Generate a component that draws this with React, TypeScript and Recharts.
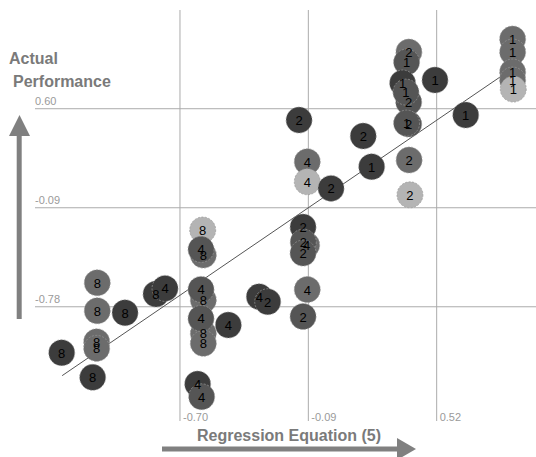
import React from "react";
import { ReferenceLine, Scatter, ScatterChart, XAxis, YAxis } from "recharts";

type Pt = { x: number; y: number; tone: number };

// values; tone = shade level of the bubble (1 dark .. 4 light)
const group1: Pt[] = [
  { x: 0.881, y: 1.086, tone: 3 },
  { x: 0.881, y: 0.995, tone: 3 },
  { x: 0.881, y: 0.856, tone: 3 },
  { x: 0.881, y: 0.8, tone: 3 },
  { x: 0.884, y: 0.737, tone: 4 },
  { x: 0.512, y: 0.8, tone: 1 },
  { x: 0.658, y: 0.556, tone: 1 },
  { x: 0.377, y: 0.925, tone: 2 },
  { x: 0.358, y: 0.779, tone: 1 },
  { x: 0.374, y: 0.716, tone: 2 },
  { x: 0.377, y: 0.5, tone: 2 },
  { x: 0.211, y: 0.196, tone: 1 },
];

const group2: Pt[] = [
  { x: 0.388, y: 0.995, tone: 3 },
  { x: 0.387, y: 0.647, tone: 2 },
  { x: 0.387, y: 0.493, tone: 2 },
  { x: -0.134, y: 0.521, tone: 1 },
  { x: 0.171, y: 0.41, tone: 1 },
  { x: 0.389, y: 0.243, tone: 3 },
  { x: 0.393, y: 0.0, tone: 4 },
  { x: 0.018, y: 0.045, tone: 1 },
  { x: -0.115, y: -0.224, tone: 1 },
  { x: -0.114, y: -0.329, tone: 2 },
  { x: -0.115, y: -0.406, tone: 2 },
  { x: -0.115, y: -0.848, tone: 2 },
  { x: -0.283, y: -0.745, tone: 1 },
];

const group4: Pt[] = [
  { x: -0.095, y: 0.231, tone: 3 },
  { x: -0.095, y: 0.091, tone: 4 },
  { x: -0.098, y: -0.35, tone: 3 },
  { x: -0.095, y: -0.66, tone: 3 },
  { x: -0.323, y: -0.71, tone: 1 },
  { x: -0.47, y: -0.907, tone: 1 },
  { x: -0.6, y: -0.38, tone: 2 },
  { x: -0.6, y: -0.659, tone: 2 },
  { x: -0.6, y: -0.861, tone: 2 },
  { x: -0.616, y: -1.318, tone: 1 },
  { x: -0.597, y: -1.407, tone: 2 },
  { x: -0.771, y: -0.652, tone: 1 },
];

const group8: Pt[] = [
  { x: -0.592, y: -0.245, tone: 4 },
  { x: -0.589, y: -0.42, tone: 3 },
  { x: -0.589, y: -0.733, tone: 3 },
  { x: -0.589, y: -0.965, tone: 3 },
  { x: -0.589, y: -1.035, tone: 3 },
  { x: -0.814, y: -0.691, tone: 1 },
  { x: -1.093, y: -0.613, tone: 3 },
  { x: -1.093, y: -0.808, tone: 3 },
  { x: -0.961, y: -0.822, tone: 1 },
  { x: -1.096, y: -1.024, tone: 3 },
  { x: -1.096, y: -1.07, tone: 3 },
  { x: -1.262, y: -1.1, tone: 1 },
  { x: -1.115, y: -1.272, tone: 1 },
];

const groups: { label: string; points: Pt[] }[] = [
  { label: "8", points: group8 },
  { label: "4", points: group4 },
  { label: "2", points: group2 },
  { label: "1", points: group1 },
];

const xTicks = [-0.7, -0.09, 0.52];
const yTicks = [0.6, -0.09, -0.78];
const fitLine = [
  { x: -1.26, y: -1.26 },
  { x: 0.87, y: 0.87 },
];

const toneColor: Record<number, string> = {
  1: "#3c3c3c",
  2: "#555555",
  3: "#6c6c6c",
  4: "#b4b4b4",
};

const font = "'Liberation Sans', Arial, sans-serif";

const Bubble = (props: any) => {
  const { cx, cy, payload } = props;
  return (
    <circle
      cx={cx}
      cy={cy}
      r={13}
      fill={toneColor[payload.tone]}
      stroke="#999"
      strokeOpacity={0.7}
      strokeDasharray="2 1.5"
    />
  );
};

// labels go in a later layer so stacked bubbles keep every number readable
function bubbleLabel(label: string) {
  return (props: any) => (
    <text x={props.cx} y={props.cy + 5} textAnchor="middle" fontSize={13} fontFamily={font} fill="#000">
      {label}
    </text>
  );
}

const XTickLabel = ({ viewBox, value }: any) => (
  <text x={viewBox.x + 3} y={viewBox.y + viewBox.height} fontSize={11} fontFamily={font} fill="#9a9a9a">
    {value}
  </text>
);

const YTickLabel = ({ viewBox, value }: any) => (
  <text x={viewBox.x} y={viewBox.y - 4} fontSize={11} fontFamily={font} fill="#9a9a9a">
    {value}
  </text>
);

export default function App() {
  return (
    <div style={{ position: "absolute", left: 0, top: 0, width: 536, height: 457 }}>
      <svg width={536} height={457} style={{ position: "absolute", left: 0, top: 0 }}>
        <text x={9} y={64} fontSize={16} fontWeight="bold" fontFamily={font} fill="#7a7a7a">
          Actual
        </text>
        <text x={13} y={87} fontSize={16} fontWeight="bold" fontFamily={font} fill="#7a7a7a">
          Performance
        </text>
        <rect x={16.7} y={133} width={5} height={186} fill="#808080" />
        <polygon points="19.5,115 9,136 30,136" fill="#808080" />
        <text x={197} y={441} fontSize={16} fontWeight="bold" fontFamily={font} fill="#7a7a7a">
          Regression Equation (5)
        </text>
        <rect x={162} y={446.5} width={237} height={5} fill="#808080" />
        <polygon points="397,438 416,449 397,460" fill="#808080" />
      </svg>
      <div style={{ position: "absolute", left: 0, top: 0 }}>
        <ScatterChart width={536} height={457} margin={{ top: 10, right: 0, bottom: 36, left: 35 }}>
          <XAxis type="number" dataKey="x" domain={[-1.389, 0.992]} allowDataOverflow hide />
          <YAxis type="number" dataKey="y" domain={[-1.576, 1.288]} allowDataOverflow hide />
          {xTicks.map((v) => (
            <ReferenceLine
              key={`x${v}`}
              x={v}
              stroke="#ababab"
              strokeWidth={1}
              label={(p: any) => <XTickLabel {...p} value={v.toFixed(2)} />}
            />
          ))}
          {yTicks.map((v) => (
            <ReferenceLine
              key={`y${v}`}
              y={v}
              stroke="#ababab"
              strokeWidth={1}
              label={(p: any) => <YTickLabel {...p} value={v.toFixed(2)} />}
            />
          ))}
          <ReferenceLine segment={fitLine} stroke="#555" strokeWidth={1} />
          {groups.map((g) => (
            <Scatter key={`c${g.label}`} data={g.points} shape={Bubble} isAnimationActive={false} />
          ))}
          {groups.map((g) => (
            <Scatter
              key={`t${g.label}`}
              data={g.points}
              shape={bubbleLabel(g.label)}
              isAnimationActive={false}
            />
          ))}
        </ScatterChart>
      </div>
    </div>
  );
}
